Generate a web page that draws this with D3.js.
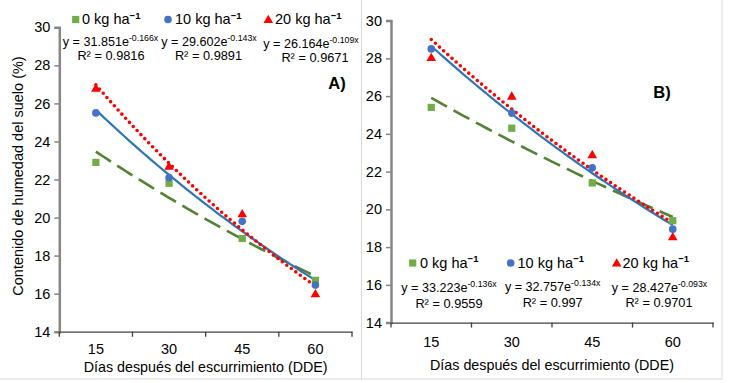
<!DOCTYPE html>
<html>
<head>
<meta charset="utf-8">
<script src="https://cdn.jsdelivr.net/npm/d3@7"></script>
<style>
  html, body { margin: 0; padding: 0; background: #fff; }
  svg { display: block; font-family: "Liberation Sans", Arial, sans-serif; }
</style>
</head>
<body>
<svg id="chart" width="737" height="383"></svg>
<script>
// ---------------- data ----------------
const days = ["15", "30", "45", "60"];
const doses = ["0 kg ha", "10 kg ha", "20 kg ha"];
const yTicks = [14, 16, 18, 20, 22, 24, 26, 28, 30];

// Panel A observed values
const a0kg = [22.9, 21.8, 18.9, 16.7];
const a10kg = [25.5, 22.1, 19.8, 16.45];
const a20kg = [26.8, 22.7, 20.2, 16.0];
// Panel B observed values
const b0kg = [25.4, 24.3, 21.4, 19.4];
const b10kg = [28.5, 25.1, 22.2, 18.95];
const b20kg = [28.05, 26.0, 22.9, 18.55];

// Exponential trendline coefficients y = a*e^(b*x), x = 1..4 (series 0,10,20 kg)
const aFitA = [26.164, 29.602, 31.851];
const aFitB = [-0.109, -0.143, -0.166];
const bFitA = [28.427, 32.757, 33.223];
const bFitB = [-0.093, -0.134, -0.136];

// Equation labels as printed (left to right)
const aEqCoef = ["31.851", "29.602", "26.164"];
const aEqExp = ["-0.166x", "-0.143x", "-0.109x"];
const aEqR2 = ["0.9816", "0.9891", "0.9671"];
const bEqCoef = ["33.223", "32.757", "28.427"];
const bEqExp = ["-0.136x", "-0.134x", "-0.093x"];
const bEqR2 = ["0.9559", "0.997", "0.9701"];

const yTitle = "Contenido de humedad del suelo (%)";
const xTitle = "Días después del escurrimiento (DDE)";

// ---------------- styles ----------------
const markerColor = ["#70AD47", "#4472C4", "#FF0000"];
const lineColor = ["#548235", "#2E75B6", "#FF0000"];

const svg = d3.select("#chart");

// panel borders
svg.append("rect").attr("x", -1).attr("y", -1).attr("width", 362.5).attr("height", 380)
  .attr("fill", "none").attr("stroke", "#d9d9d9").attr("stroke-width", 1);
svg.append("rect").attr("x", 361.5).attr("y", -1).attr("width", 360.5).attr("height", 380)
  .attr("fill", "none").attr("stroke", "#d9d9d9").attr("stroke-width", 1);

function marker(g, type, cx, cy, color) {
  if (type === 0) {
    g.append("rect").attr("x", cx - 3.6).attr("y", cy - 3.6).attr("width", 7.2).attr("height", 7.2).attr("fill", color);
  } else if (type === 1) {
    g.append("circle").attr("cx", cx).attr("cy", cy).attr("r", 3.8).attr("fill", color);
  } else {
    g.append("path").attr("d", d3.symbol().type(d3.symbolTriangle).size(40)()).attr("transform", `translate(${cx},${cy + 0.8})`).attr("fill", color);
  }
}

function panel(cfg) {
  const g = svg.append("g");
  const x = d3.scaleBand().domain(days).range([cfg.x0, cfg.x1]).padding(0);
  const y = d3.scaleLinear().domain([14, 30]).range([cfg.y0, cfg.y1]);
  const xi = d3.scaleLinear().domain([1, 4]).range([x(days[0]) + x.bandwidth() / 2, x(days[3]) + x.bandwidth() / 2]);

  // y axis
  const ya = g.append("g").attr("transform", `translate(${cfg.x0},0)`)
    .call(d3.axisLeft(y).tickValues(yTicks).tickSize(5).tickPadding(4).tickFormat(d3.format("d")));
  ya.select(".domain").attr("stroke", "#868686").attr("stroke-width", 2.5);
  ya.selectAll(".tick line").attr("stroke", "#868686").attr("stroke-width", 1.5);
  ya.selectAll(".tick text").attr("font-size", 14.5).attr("fill", "#000").attr("font-family", "Liberation Sans, Arial, sans-serif");

  // x axis
  const xa = g.append("g").attr("transform", `translate(0,${cfg.y0})`)
    .call(d3.axisBottom(x).tickSize(0).tickPadding(cfg.tickPad));
  xa.select(".domain").attr("stroke", "#404040").attr("stroke-width", 1.3);
  xa.selectAll(".tick text").attr("font-size", 14.5).attr("fill", "#000").attr("font-family", "Liberation Sans, Arial, sans-serif");
  // category boundary ticks
  const bounds = days.map(d => x(d)).concat([cfg.x1]);
  g.selectAll(".bt").data(bounds).enter().append("line")
    .attr("x1", d => d).attr("x2", d => d).attr("y1", cfg.y0).attr("y2", cfg.y0 + 5)
    .attr("stroke", "#404040").attr("stroke-width", 1.3);

  // x title
  g.append("text").attr("x", (cfg.x0 + cfg.x1) / 2).attr("y", cfg.xTitleY).attr("text-anchor", "middle")
    .attr("font-size", 14.3).attr("fill", "#000").text(xTitle);

  // trendlines
  const line = d3.line().x(d => xi(d[0])).y(d => y(d[1]));
  const xs = d3.range(0, 61).map(i => 1 + i * 3 / 60);
  const styles = [
    { w: 2.6, dash: "18,7.5", cap: "butt" },
    { w: 2.2, dash: null, cap: "butt" },
    { w: 3.6, dash: "0,5.6", cap: "round" }
  ];
  cfg.series.forEach((vals, s) => {
    const pts = xs.map(t => [t, cfg.fa[s] * Math.exp(cfg.fb[s] * t)]);
    const p = g.append("path").attr("d", line(pts)).attr("fill", "none")
      .attr("stroke", lineColor[s]).attr("stroke-width", styles[s].w).attr("stroke-linecap", styles[s].cap);
    if (styles[s].dash) p.attr("stroke-dasharray", styles[s].dash);
  });

  // markers
  cfg.series.forEach((vals, s) => {
    vals.forEach((v, i) => marker(g, s, x(days[i]) + x.bandwidth() / 2, y(v), markerColor[s]));
  });

  // legend
  cfg.legend.forEach((lp, s) => {
    marker(g, s, lp[0], cfg.legY - 4.5, markerColor[s]);
    const t = g.append("text").attr("x", lp[1]).attr("y", cfg.legY).attr("font-size", 14.5).attr("fill", "#000");
    t.append("tspan").text(doses[s]);
    t.append("tspan").attr("dy", -5.5).attr("font-size", 9.5).attr("font-weight", "bold").text("\u22121");
  });

  // equations
  cfg.eq.forEach((ex, s) => {
    const t = g.append("text").attr("x", ex[0]).attr("y", ex[1]).attr("text-anchor", "middle").attr("font-size", 12.6).attr("fill", "#000");
    t.append("tspan").text("y = " + cfg.coef[s] + "e");
    t.append("tspan").attr("dy", -5).attr("font-size", 8.8).text(cfg.exps[s]);
    g.append("text").attr("x", ex[2]).attr("y", ex[3]).attr("text-anchor", "middle").attr("font-size", 12.8).attr("fill", "#000")
      .text("R\u00B2 = " + cfg.r2[s]);
  });

  // panel label
  g.append("text").attr("x", cfg.lab[0]).attr("y", cfg.lab[1]).attr("text-anchor", "middle")
    .attr("font-size", 16.5).attr("font-weight", "bold").attr("fill", "#000").text(cfg.label);
}

panel({
  x0: 59.3, x1: 352, y0: 331.7, y1: 27.3, tickPad: 12, xTitleY: 371.5,
  series: [a0kg, a10kg, a20kg], fa: aFitA, fb: aFitB,
  legY: 24, legend: [[75.7, 82], [168, 175], [268.3, 275]],
  coef: aEqCoef, exps: aEqExp, r2: aEqR2,
  eq: [[110.5, 46, 111, 59.5], [209, 46, 208.5, 59.5], [311, 47.5, 315, 61.5]],
  label: "A)", lab: [337, 89]
});

panel({
  x0: 391, x1: 713, y0: 322.6, y1: 20.6, tickPad: 14, xTitleY: 370,
  series: [b0kg, b10kg, b20kg], fa: bFitA, fb: bFitB,
  legY: 267.5, legend: [[412.7, 420], [510.7, 517.5], [616.7, 622.5]],
  coef: bEqCoef, exps: bEqExp, r2: bEqR2,
  eq: [[449, 291.5, 449, 308], [552.7, 291, 552.7, 306.5], [659.5, 291.5, 659, 307]],
  label: "B)", lab: [662, 97.5]
});

// y title
svg.append("text").attr("transform", "translate(23,176) rotate(-90)").attr("text-anchor", "middle")
  .attr("font-size", 14.5).attr("fill", "#000").text(yTitle);
</script>
</body>
</html>
